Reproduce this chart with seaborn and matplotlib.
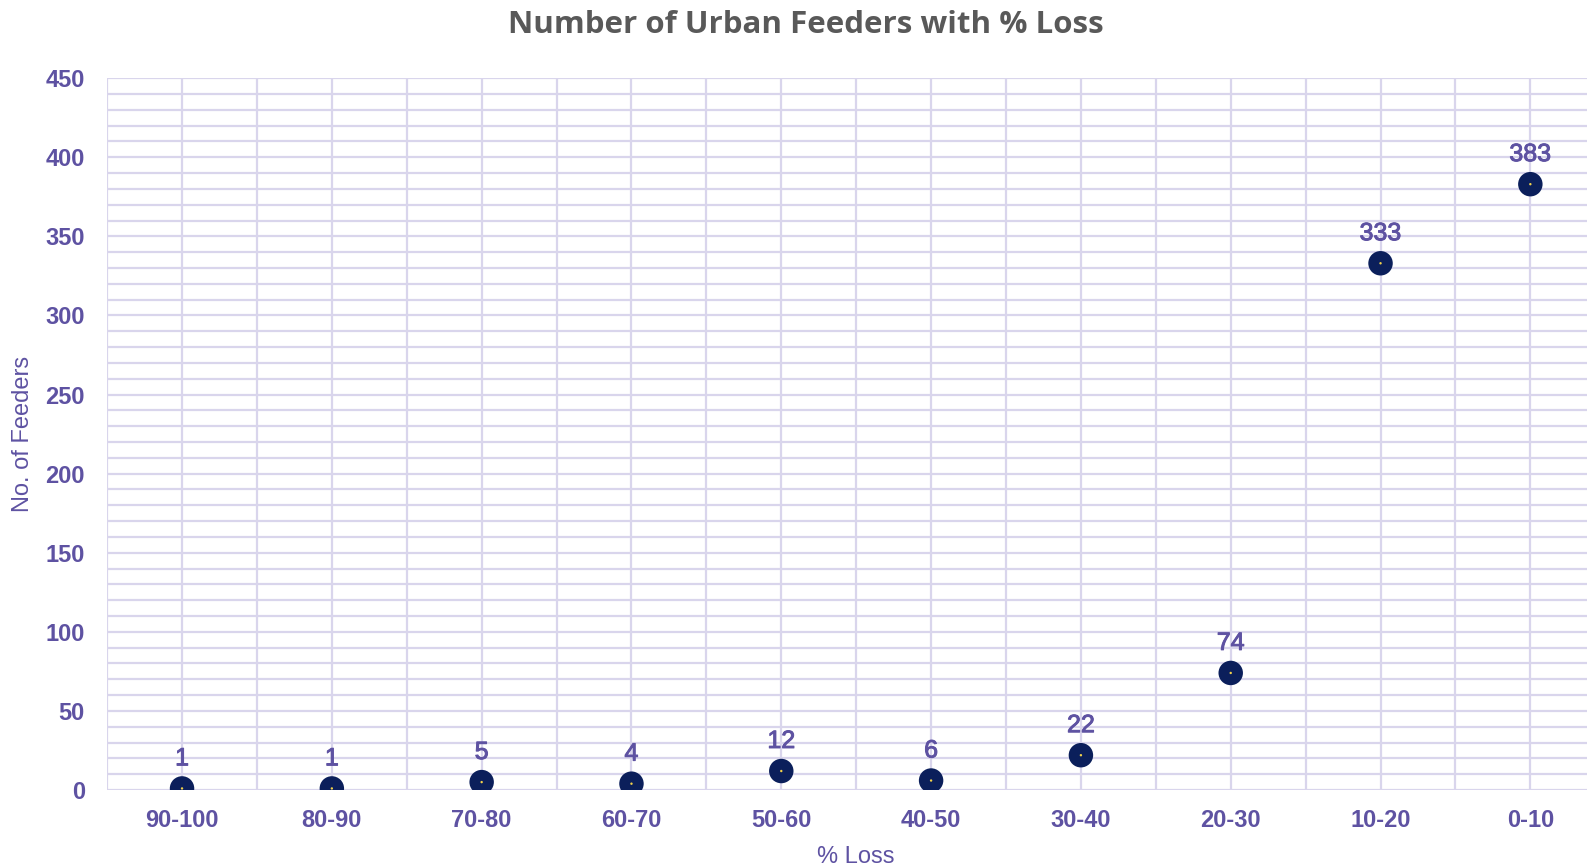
import numpy as np
import pandas as pd
import matplotlib.pyplot as plt
import matplotlib.patheffects as pe
import seaborn as sns
from matplotlib.ticker import MultipleLocator

# data
loss_bands = ['90-100', '80-90', '70-80', '60-70', '50-60', '40-50', '30-40', '20-30', '10-20', '0-10']
feeders = [1, 1, 5, 4, 12, 6, 22, 74, 333, 383]

df = pd.DataFrame({'band': loss_bands, 'feeders': feeders})
df['pos'] = np.arange(len(df))

purple = '#5E52A2'
grid_col = '#D9D5EC'

sns.set_theme(style='white')
plt.rcParams['font.family'] = ['Liberation Sans', 'DejaVu Sans']

fig = plt.figure(figsize=(15.87, 8.67), dpi=100)
# right edge of the plot area runs past the figure, like the original crop
ax = fig.add_axes([0.0675, 0.0888, 0.944, 0.821])

# dots and the small yellow centres
sns.scatterplot(data=df, x='pos', y='feeders', s=310, color='#0B1F5B', edgecolor='none', ax=ax, zorder=3)
sns.scatterplot(data=df, x='pos', y='feeders', s=3, color='#F2D24B', edgecolor='none', ax=ax, zorder=4)

# value labels, a touch heavier than regular
for p, v in zip(df['pos'], df['feeders']):
    ax.annotate(str(v), (p, v), xytext=(0, 13), textcoords='offset points',
                ha='center', va='bottom', fontsize=18, color=purple,
                path_effects=[pe.withStroke(linewidth=0.7, foreground=purple)])

ax.set_xlim(-0.5, 9.5)
ax.set_ylim(0, 450)
ax.set_xticks(df['pos'])
ax.set_xticklabels(loss_bands)
ax.xaxis.set_minor_locator(MultipleLocator(0.5))
ax.yaxis.set_major_locator(MultipleLocator(50))
ax.yaxis.set_minor_locator(MultipleLocator(10))
ax.grid(True, which='both', color=grid_col, linewidth=1.6)
ax.set_axisbelow(True)
for s in ax.spines.values():
    s.set_visible(False)
ax.tick_params(axis='y', which='both', length=0, labelsize=17, labelcolor=purple, pad=16)
ax.tick_params(axis='x', which='both', length=0, labelsize=17, labelcolor=purple, pad=14)
for t in ax.get_xticklabels() + ax.get_yticklabels():
    t.set_fontweight('bold')

ax.set_xlabel('% Loss', fontsize=17, color=purple, labelpad=10)
ax.set_ylabel('No. of Feeders', fontsize=17, color=purple, labelpad=8)

fig.suptitle('Number of Urban Feeders with % Loss', x=0.508, y=0.988, fontsize=22.5,
             fontweight='bold', color='#595959', family=['Open Sans', 'DejaVu Sans'])

fig.savefig('out.png', dpi=100)
